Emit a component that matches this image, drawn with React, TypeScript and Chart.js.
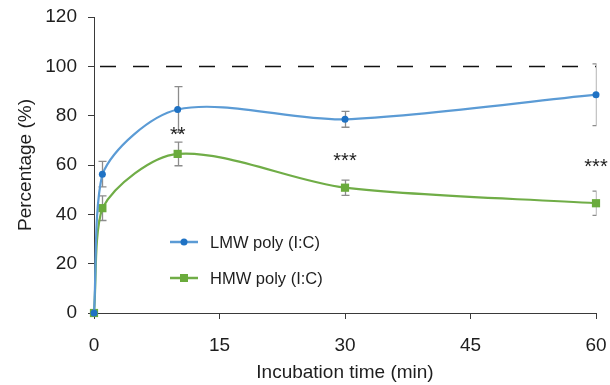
import React, { useEffect, useRef } from "react";
import { Chart, registerables } from "chart.js";

Chart.register(...registerables);

const times = [0, 1, 10, 30, 60];
const lmwValues = [0, 56.3, 82.5, 78.5, 88.5];
const lmwErrors = [0, 5.2, 9.3, 3.2, 12.5];
const hmwValues = [0, 42.5, 64.5, 50.8, 44.5];
const hmwErrors = [0, 5, 4.8, 3.1, 4.9];
const seriesLabels = ["LMW poly (I:C)", "HMW poly (I:C)"];
const sigTimes = [10, 30, 60];
const sigLevels = [72.5, 62, 59.5];
const sigLabels = ["**", "***", "***"];
const referenceLevel = 100;
const xTicks = [0, 15, 30, 45, 60];
const yTicks = [0, 20, 40, 60, 80, 100, 120];

const FONT = "'Liberation Sans', Arial, sans-serif";
const BLUE_LINE = "#5b9bd5";
const BLUE_MARK = "#1f72c4";
const GREEN_LINE = "#70ad47";
const GREEN_MARK = "#6aab3c";
const ERR = "#8c8c8c";
const AXIS = "#3a3a3a";
const TEXT = "#1e1e1e";

const overlayPlugin = {
  id: "overlay",
  beforeDatasetsDraw(chart: any) {
    const { ctx, chartArea, scales } = chart;
    const x = scales.x;
    const y = scales.y;
    ctx.save();
    ctx.strokeStyle = "#111";
    ctx.lineWidth = 1.6;
    ctx.setLineDash([16, 17]);
    ctx.lineDashOffset = 27;
    const yr = Math.round(y.getPixelForValue(referenceLevel)) + 0.5;
    ctx.beginPath();
    ctx.moveTo(chartArea.left, yr);
    ctx.lineTo(chartArea.right, yr);
    ctx.stroke();
    ctx.setLineDash([]);

    ctx.beginPath();
    ctx.rect(chartArea.left, 0, chartArea.right - chartArea.left + 0.5, chart.height);
    ctx.clip();
    ctx.strokeStyle = ERR;
    ctx.lineWidth = 1.3;
    const sets = [
      [lmwValues, lmwErrors],
      [hmwValues, hmwErrors],
    ];
    sets.forEach(([vals, errs]) => {
      times.forEach((t, i) => {
        if (!errs[i]) return;
        const px = Math.round(x.getPixelForValue(t)) + 0.5;
        const top = y.getPixelForValue(vals[i] + errs[i]);
        const bot = y.getPixelForValue(vals[i] - errs[i]);
        ctx.beginPath();
        ctx.moveTo(px, top);
        ctx.lineTo(px, bot);
        ctx.moveTo(px - 4, top);
        ctx.lineTo(px + 4, top);
        ctx.moveTo(px - 4, bot);
        ctx.lineTo(px + 4, bot);
        ctx.stroke();
      });
    });
    ctx.restore();
  },
  afterDraw(chart: any) {
    const { ctx, chartArea, scales } = chart;
    const x = scales.x;
    const y = scales.y;
    ctx.save();
    const sigSize = 20;
    ctx.font = `${sigSize}px ${FONT}`;
    ctx.fillStyle = TEXT;
    ctx.textAlign = "center";
    ctx.textBaseline = "alphabetic";
    sigTimes.forEach((t, i) => {
      const px = x.getPixelForValue(t);
      const py = y.getPixelForValue(sigLevels[i]);
      ctx.fillText(sigLabels[i], px, py + sigSize * 0.33);
    });

    const lx = chartArea.left + 76;
    const rows = [
      { label: seriesLabels[0], line: BLUE_LINE, mark: BLUE_MARK, shape: "circle", y: 242 },
      { label: seriesLabels[1], line: GREEN_LINE, mark: GREEN_MARK, shape: "rect", y: 278 },
    ];
    rows.forEach((r) => {
      ctx.strokeStyle = r.line;
      ctx.lineWidth = 2.5;
      ctx.beginPath();
      ctx.moveTo(lx, r.y);
      ctx.lineTo(lx + 28, r.y);
      ctx.stroke();
      ctx.fillStyle = r.mark;
      const cx = lx + 14;
      if (r.shape === "circle") {
        ctx.beginPath();
        ctx.arc(cx, r.y, 3.5, 0, Math.PI * 2);
        ctx.fill();
      } else {
        ctx.fillRect(cx - 4, r.y - 4, 8, 8);
      }
      ctx.fillStyle = TEXT;
      ctx.font = `16.5px ${FONT}`;
      ctx.textAlign = "left";
      ctx.textBaseline = "middle";
      ctx.fillText(r.label, lx + 40, r.y + 1);
    });
    ctx.restore();
  },
};

export default function App() {
  const canvasRef = useRef<HTMLCanvasElement | null>(null);

  useEffect(() => {
    document.body.style.margin = "0";
    const canvas = canvasRef.current;
    if (!canvas) return;
    const chart = new Chart(canvas, {
      type: "line",
      data: {
        datasets: [
          {
            label: seriesLabels[0],
            data: times.map((t, i) => ({ x: t, y: lmwValues[i] })),
            borderColor: BLUE_LINE,
            backgroundColor: BLUE_MARK,
            pointBackgroundColor: BLUE_MARK,
            pointBorderColor: BLUE_MARK,
            pointStyle: "circle",
            pointRadius: 3.5,
            pointBorderWidth: 0,
            borderWidth: 2.2,
            tension: 0.3,
            clip: false,
          },
          {
            label: seriesLabels[1],
            data: times.map((t, i) => ({ x: t, y: hmwValues[i] })),
            borderColor: GREEN_LINE,
            backgroundColor: GREEN_MARK,
            pointBackgroundColor: GREEN_MARK,
            pointBorderColor: GREEN_MARK,
            pointStyle: "rect",
            pointRadius: 5.8,
            pointBorderWidth: 0,
            borderWidth: 2.2,
            tension: 0.3,
            clip: false,
          },
        ],
      },
      options: {
        responsive: false,
        animation: false,
        devicePixelRatio: 1,
        layout: { padding: { top: 17, right: 14, left: 0, bottom: 0 } },
        plugins: { legend: { display: false }, tooltip: { enabled: false } },
        scales: {
          x: {
            type: "linear",
            min: 0,
            max: 60,
            afterBuildTicks: (s: any) => {
              s.ticks = xTicks.map((v) => ({ value: v }));
            },
            afterFit: (s: any) => {
              s.height = 72;
              s.paddingLeft = 0;
              s.paddingRight = 0;
            },
            ticks: {
              color: TEXT,
              font: { family: FONT, size: 19 },
              padding: 15,
              maxRotation: 0,
            },
            grid: { drawOnChartArea: false, drawTicks: true, tickLength: 6, color: AXIS, lineWidth: 1 },
            border: { color: AXIS, width: 1 },
            title: {
              display: true,
              text: "Incubation time (min)",
              color: TEXT,
              font: { family: FONT, size: 19 },
              padding: { top: 0, bottom: 1 },
            },
          },
          y: {
            type: "linear",
            min: 0,
            max: 120,
            afterBuildTicks: (s: any) => {
              s.ticks = yTicks.map((v) => ({ value: v }));
            },
            afterFit: (s: any) => {
              s.width = 94;
              s.paddingTop = 0;
              s.paddingBottom = 0;
            },
            ticks: {
              color: TEXT,
              font: { family: FONT, size: 19 },
              padding: 11,
            },
            grid: { drawOnChartArea: false, drawTicks: true, tickLength: 6, color: AXIS, lineWidth: 1 },
            border: { color: AXIS, width: 1 },
            title: {
              display: true,
              text: "Percentage (%)",
              color: TEXT,
              font: { family: FONT, size: 19 },
              padding: { top: 14, bottom: 0 },
            },
          },
        },
      },
      plugins: [overlayPlugin],
    });
    return () => chart.destroy();
  }, []);

  return (
    <div style={{ width: 610, height: 385 }}>
      <canvas ref={canvasRef} width={610} height={385} style={{ display: "block" }} />
    </div>
  );
}
